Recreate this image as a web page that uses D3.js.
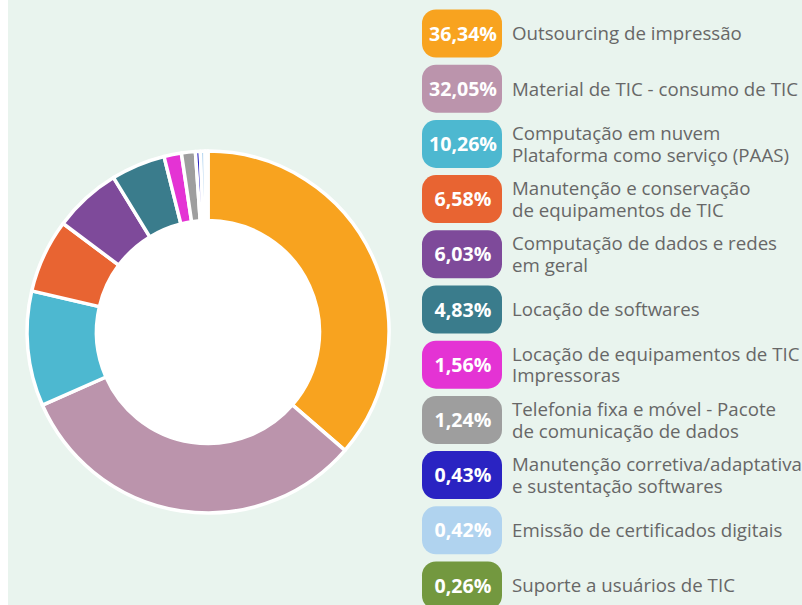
<!DOCTYPE html>
<html>
<head>
<meta charset="utf-8">
<script src="https://cdn.jsdelivr.net/npm/d3@7"></script>
<style>
  html, body { margin: 0; padding: 0; background: #ffffff; }
  svg { display: block; }
</style>
</head>
<body>
<script>
// Spending categories (legend lines), their share in percent, and colours
const categories = [
  ["Outsourcing de impressão"],
  ["Material de TIC - consumo de TIC"],
  ["Computação em nuvem", "Plataforma como serviço (PAAS)"],
  ["Manutenção e conservação", "de equipamentos de TIC"],
  ["Computação de dados e redes", "em geral"],
  ["Locação de softwares"],
  ["Locação de equipamentos de TIC", "Impressoras"],
  ["Telefonia fixa e móvel - Pacote", "de comunicação de dados"],
  ["Manutenção corretiva/adaptativa", "e sustentação softwares"],
  ["Emissão de certificados digitais"],
  ["Suporte a usuários de TIC"]
];
const shares = [36.34, 32.05, 10.26, 6.58, 6.03, 4.83, 1.56, 1.24, 0.43, 0.42, 0.26];
const colors = ["#f8a31f", "#bb94ac", "#4db8d0", "#e86432", "#7e4a9a", "#3a7c8c",
                "#e433d4", "#9e9e9e", "#2a23c2", "#b0d3ef", "#73983f"];

const W = 802, H = 605;
const svg = d3.select("body").append("svg").attr("width", W).attr("height", H);

// panel background
svg.append("rect").attr("x", 8).attr("y", 0).attr("width", W - 8).attr("height", H)
  .attr("fill", "#e9f4ee");

// ---- donut ----
const cx = 208, cy = 332, rOuter = 181, rInner = 111.5;
const items = shares.map((v, i) => ({ value: v, label: categories[i], color: colors[i] }));
const pie = d3.pie().value(d => d.value).sort(null);
const arc = d3.arc().innerRadius(rInner).outerRadius(rOuter);

const g = svg.append("g").attr("transform", `translate(${cx},${cy})`);
g.append("circle").attr("r", rInner).attr("fill", "#ffffff");
g.selectAll("path.slice").data(pie(items)).join("path")
  .attr("class", "slice")
  .attr("d", arc)
  .attr("fill", d => d.data.color)
  .attr("stroke", "#ffffff")
  .attr("stroke-width", 3.5)
  .attr("stroke-linejoin", "round");

// ---- legend ----
const fmt = v => d3.format(".2f")(v).replace(".", ",") + "%";
const rowY = d3.scaleLinear().domain([0, shares.length - 1]).range([33.5, 585.5]);
const badgeX = 422, badgeW = 80, badgeH = 48, textX = 512, lineH = 21.7;

const rows = svg.append("g").selectAll("g.row").data(items).join("g")
  .attr("class", "row")
  .attr("transform", (d, i) => `translate(0,${rowY(i)})`);

rows.append("rect")
  .attr("x", badgeX).attr("y", -badgeH / 2)
  .attr("width", badgeW).attr("height", badgeH)
  .attr("rx", 14).attr("ry", 14)
  .attr("fill", d => d.color);

rows.append("text")
  .attr("x", badgeX + badgeW / 2 + 1).attr("y", 7)
  .attr("text-anchor", "middle")
  .attr("font-family", "'Open Sans', sans-serif")
  .attr("font-weight", 700)
  .attr("font-size", 19.6)
  .attr("fill", "#ffffff")
  .text(d => fmt(d.value));

rows.append("text")
  .attr("font-family", "'Open Sans', sans-serif")
  .attr("font-size", 18.7)
  .attr("fill", "#676767")
  .each(function (d) {
    const t = d3.select(this);
    const n = d.label.length;
    const y0 = 6.8 - (n - 1) * lineH / 2;
    d.label.forEach((line, k) => {
      t.append("tspan").attr("x", textX).attr("y", y0 + k * lineH).text(line);
    });
  });
</script>
</body>
</html>
